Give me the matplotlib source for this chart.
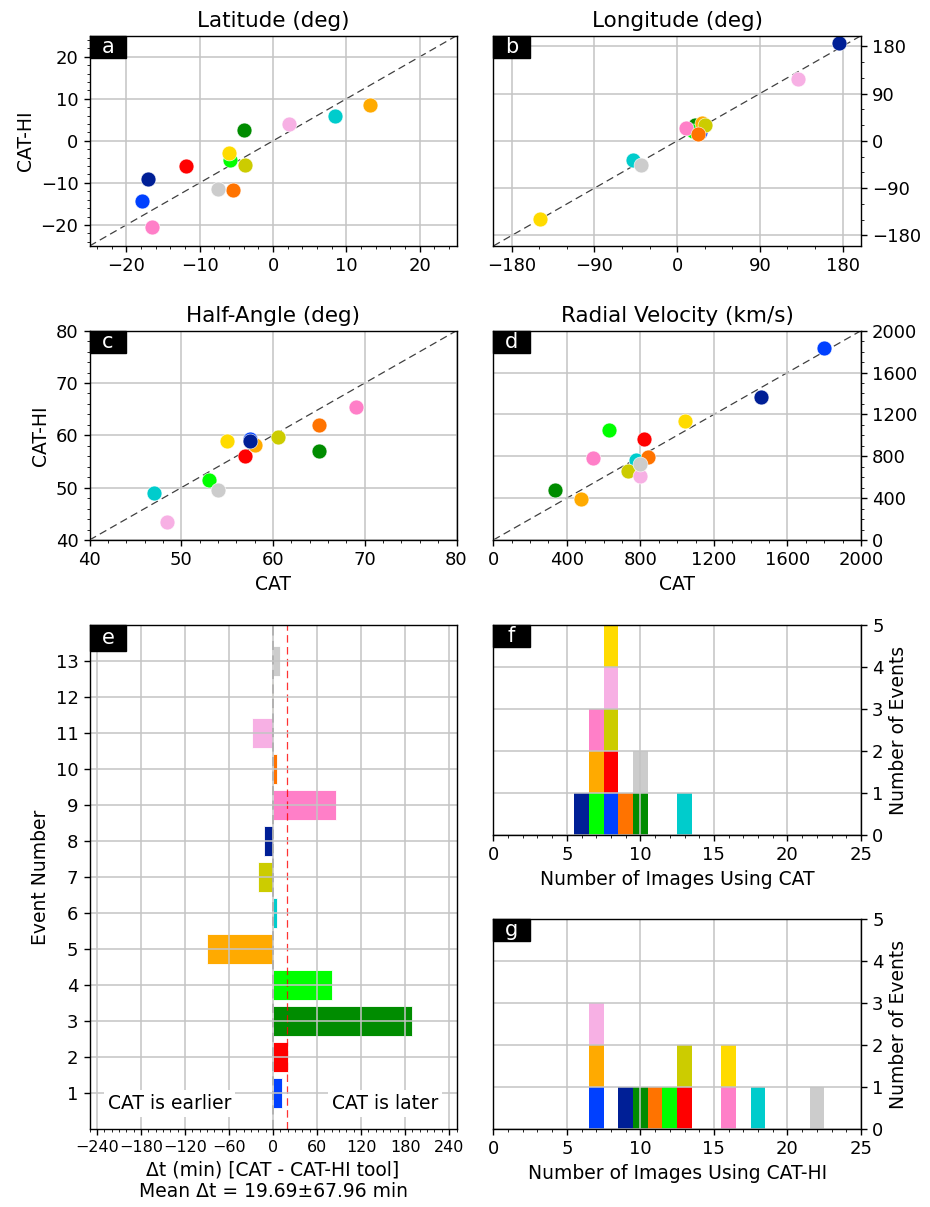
import numpy as np
import matplotlib
matplotlib.use("Agg")
import matplotlib.pyplot as plt
from matplotlib.patches import Rectangle
from matplotlib.ticker import MultipleLocator

# event colours (event 1..13)
colors = ["#0040ff", "#ff0000", "#008c00", "#00ff00", "#ffaa00", "#00cccc", "#cccc00",
          "#001f96", "#ff7fc8", "#ff7300", "#f7b0e4", "#ffdb00", "#cccccc"]
events = list(range(1, 14))

# CAT vs CAT-HI parameters
lat_cat = [-17.8, -11.9, -4.0, -5.8, 13.2, 8.5, -3.8, -17.0, -16.5, -5.4, 2.2, -6.0, -7.5]
lat_hi = [-14.2, -6.0, 2.5, -4.6, 8.5, 6.0, -5.8, -9.1, -20.4, -11.7, 4.1, -3.0, -11.4]
lon_cat = [25, 23, 19.4, 16.9, 27.2, -48.4, 30.2, 175.7, 9.6, 22.7, 131, -149, -39]
lon_hi = [17, 16, 30.5, 19.5, 34.9, -36.3, 30.5, 187, 24.2, 13.4, 118, -148.9, -45.8]
ha_cat = [57.5, 57.0, 65.0, 53.0, 58.0, 47.0, 60.5, 57.5, 69.0, 65.0, 48.5, 55.0, 54.0]
ha_hi = [59.3, 56.1, 57.0, 51.5, 58.2, 49.0, 59.6, 59.0, 65.5, 62.0, 43.5, 59.0, 49.5]
v_cat = [1797, 819, 334, 630, 475, 777, 730, 1456, 544, 842, 797, 1045, 799]
v_hi = [1831, 962, 478, 1054, 395, 764, 659, 1366, 780, 790, 611, 1140, 726]

# time difference CAT - CAT-HI (min)
dt = [12, 21, 190, 80, -90, 5, -20, -12, 86, 6, -28, -1.5, 9]
dt_mean = 19.69
dt_text = "Δt (min) [CAT - CAT-HI tool]\nMean Δt = 19.69±67.96 min"

# number of images used
n_cat = [8, 8, 10, 7, 7, 13, 8, 6, 7, 9, 8, 8, 10]
n_hi = [7, 13, 10, 12, 7, 18, 13, 9, 16, 11, 7, 16, 22]

plt.rcParams["font.size"] = 13
plt.rcParams["xtick.labelsize"] = 13
plt.rcParams["ytick.labelsize"] = 13
plt.rcParams["axes.linewidth"] = 1.0
plt.rcParams["xtick.major.width"] = 1.0
plt.rcParams["ytick.major.width"] = 1.0
plt.rcParams["xtick.major.size"] = 4.5
plt.rcParams["ytick.major.size"] = 4.5

W, H = 930, 1207
fig = plt.figure(figsize=(W / 100, H / 100), dpi=100)


def px_axes(left, top, right, bottom):
    return fig.add_axes([left / W, 1 - bottom / H, (right - left) / W, (bottom - top) / H])


def label_box(ax, letter, h):
    ax.add_patch(Rectangle((0, 1 - h), 0.1, h, transform=ax.transAxes,
                           color="black", zorder=10, clip_on=False))
    ax.text(0.05, 1 - h / 2, letter, transform=ax.transAxes, color="white",
            ha="center", va="center", fontsize=15, zorder=11)


def style(ax):
    ax.grid(True, color="#c4c4c4", linewidth=1.1)
    ax.set_axisbelow(False)
    for sp in ax.spines.values():
        sp.set_zorder(5)


def scatter_panel(ax, x, y, lim, major, minor, title, letter, right=False):
    style(ax)
    ax.plot(lim, lim, color="black", linestyle="--", dashes=(6, 3.5), linewidth=0.9, alpha=0.75, zorder=2)
    for xi, yi, c in zip(x, y, colors):
        ax.scatter(xi, yi, s=115, color=c, edgecolor="white", linewidth=0.4, zorder=3)
    ax.set_xlim(lim)
    ax.set_ylim(lim)
    ax.xaxis.set_major_locator(MultipleLocator(major))
    ax.xaxis.set_minor_locator(MultipleLocator(minor))
    ax.yaxis.set_major_locator(MultipleLocator(major))
    ax.yaxis.set_minor_locator(MultipleLocator(minor))
    ax.set_title(title, fontsize=15.5)
    if right:
        ax.yaxis.tick_right()
        ax.yaxis.set_label_position("right")
    label_box(ax, letter, 0.105)


ax_a = px_axes(89.5, 35.7, 456.5, 246)
ax_b = px_axes(493.3, 35.7, 861, 246)
ax_c = px_axes(89.5, 330.7, 456.5, 540)
ax_d = px_axes(493.3, 330.7, 861, 540)
ax_e = px_axes(89.5, 625, 456.5, 1128.8)
ax_f = px_axes(493.3, 625, 861, 835.3)
ax_g = px_axes(493.3, 919, 861, 1129)

scatter_panel(ax_a, lat_cat, lat_hi, (-25, 25), 10, 2, "Latitude (deg)", "a")
ax_a.set_ylabel("CAT-HI", fontsize=13.5)
scatter_panel(ax_b, lon_cat, lon_hi, (-200, 200), 90, 30, "Longitude (deg)", "b", right=True)
scatter_panel(ax_c, ha_cat, ha_hi, (40, 80), 10, 2, "Half-Angle (deg)", "c")
ax_c.set_ylabel("CAT-HI", fontsize=13.5)
ax_c.set_xlabel("CAT", fontsize=13.5)
scatter_panel(ax_d, v_cat, v_hi, (0, 2000), 400, 100, "Radial Velocity (km/s)", "d", right=True)
ax_d.set_xlabel("CAT", fontsize=13.5)

# panel e: time differences
style(ax_e)
ax_e.barh(events, dt, height=0.85, color=colors, edgecolor="white", linewidth=0.6, zorder=1)
ax_e.axvline(0, color="#555555", linestyle="--", dashes=(6, 3.5), linewidth=1.1, zorder=2)
ax_e.axvline(dt_mean, color="red", linestyle="--", dashes=(6, 3.5), linewidth=0.9, alpha=0.8, zorder=2)
ax_e.set_xlim(-250, 250)
ax_e.set_ylim(0, 14)
ax_e.xaxis.set_major_locator(MultipleLocator(60))
ax_e.xaxis.set_minor_locator(MultipleLocator(10))
ax_e.tick_params(axis="x", labelsize=11.5)
ax_e.set_yticks(events)
ax_e.set_ylabel("Event Number", fontsize=13.5)
ax_e.set_xlabel(dt_text, fontsize=13.5)
box = dict(facecolor="white", edgecolor="none", pad=3)
ax_e.text(0.05, 0.05, "CAT is earlier", transform=ax_e.transAxes, ha="left", va="center",
          fontsize=13.5, bbox=box, zorder=6)
ax_e.text(0.95, 0.05, "CAT is later", transform=ax_e.transAxes, ha="right", va="center",
          fontsize=13.5, bbox=box, zorder=6)
label_box(ax_e, "e", 0.051)

# panels f, g: stacked histograms of number of images
bins = np.arange(0.5, 26, 1)
for ax, counts, xlabel, letter in [(ax_f, n_cat, "Number of Images Using CAT", "f"),
                                   (ax_g, n_hi, "Number of Images Using CAT-HI", "g")]:
    style(ax)
    ax.hist([[n] for n in counts], bins=bins, stacked=True, color=colors, zorder=1)
    ax.set_xlim(0, 25)
    ax.set_ylim(0, 5)
    ax.xaxis.set_major_locator(MultipleLocator(5))
    ax.xaxis.set_minor_locator(MultipleLocator(1))
    ax.yaxis.set_major_locator(MultipleLocator(1))
    ax.yaxis.tick_right()
    ax.yaxis.set_label_position("right")
    ax.set_ylabel("Number of Events", fontsize=13.5)
    ax.set_xlabel(xlabel, fontsize=13.5)
    label_box(ax, letter, 0.105)

fig.savefig("out.png", dpi=100)
